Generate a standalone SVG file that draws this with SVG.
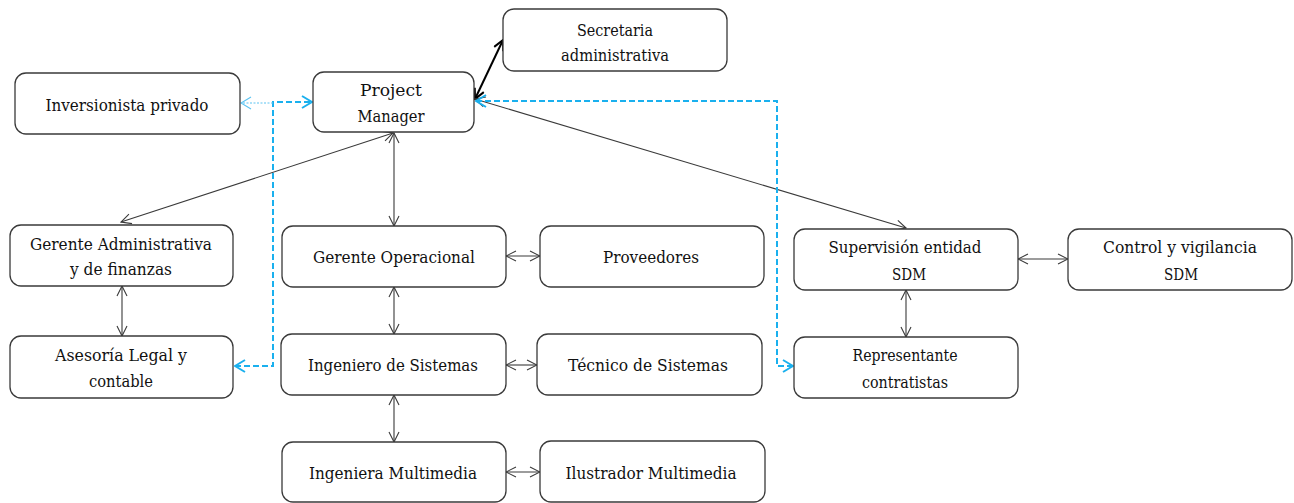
<svg xmlns="http://www.w3.org/2000/svg" width="1294" height="503" viewBox="0 0 1294 503">
<style>
.box{fill:#fff;stroke:#3a3a3a;stroke-width:1.3}
.t{font-family:"DejaVu Serif","Liberation Serif",serif;font-size:16.5px;fill:#111;text-anchor:middle}
.c{fill:none;stroke:#3a3a3a;stroke-width:1.1}
.k{fill:none;stroke:#000;stroke-width:2}
.b{fill:none;stroke:#1AB0EE;stroke-width:2;stroke-dasharray:6,3}
.bd{fill:none;stroke:#5CC4F2;stroke-width:1.2;stroke-dasharray:2,1.5}
</style>
<defs>
<marker id="a" viewBox="0 0 12 12" refX="11" refY="6" markerWidth="12" markerHeight="12" markerUnits="userSpaceOnUse" orient="auto-start-reverse"><path d="M1,1 L11,6 L1,11" fill="none" stroke="#3a3a3a" stroke-width="1.1"/></marker>
<marker id="ak" viewBox="0 0 12 12" refX="11" refY="6" markerWidth="12" markerHeight="12" markerUnits="userSpaceOnUse" orient="auto-start-reverse"><path d="M1,1 L11,6 L1,11" fill="none" stroke="#000" stroke-width="2"/></marker>
<marker id="ab" viewBox="0 0 12 14" refX="11" refY="7" markerWidth="12" markerHeight="14" markerUnits="userSpaceOnUse" orient="auto-start-reverse"><path d="M1,1 L11,7 L1,13" fill="none" stroke="#1AB0EE" stroke-width="2"/></marker>
<marker id="abd" viewBox="0 0 12 14" refX="11" refY="7" markerWidth="12" markerHeight="14" markerUnits="userSpaceOnUse" orient="auto-start-reverse"><path d="M1,1 L11,7 L1,13" fill="none" stroke="#5CC4F2" stroke-width="1.2"/></marker>
</defs>
<g id="connectors">
<line class="k" x1="475" y1="99" x2="503" y2="40" marker-start="url(#ak)" marker-end="url(#ak)"/>
<line class="c" x1="394" y1="133" x2="394" y2="226" marker-start="url(#a)" marker-end="url(#a)"/>
<line class="c" x1="393" y1="133" x2="121" y2="222" marker-start="url(#a)" marker-end="url(#a)"/>
<line class="c" x1="475" y1="99" x2="906" y2="228" marker-start="url(#a)" marker-end="url(#a)"/>
<line class="c" x1="122" y1="286" x2="122" y2="336" marker-start="url(#a)" marker-end="url(#a)"/>
<line class="c" x1="506" y1="256" x2="540" y2="256" marker-start="url(#a)" marker-end="url(#a)"/>
<line class="c" x1="394" y1="287" x2="394" y2="334" marker-start="url(#a)" marker-end="url(#a)"/>
<line class="c" x1="506" y1="365" x2="537" y2="365" marker-start="url(#a)" marker-end="url(#a)"/>
<line class="c" x1="394" y1="395" x2="394" y2="442" marker-start="url(#a)" marker-end="url(#a)"/>
<line class="c" x1="506" y1="472" x2="540" y2="472" marker-start="url(#a)" marker-end="url(#a)"/>
<line class="c" x1="1018" y1="259" x2="1068" y2="259" marker-start="url(#a)" marker-end="url(#a)"/>
<line class="c" x1="906" y1="290" x2="906" y2="337" marker-start="url(#a)" marker-end="url(#a)"/>
<path class="b" d="M235,366 H273 V102 H312" marker-start="url(#ab)" marker-end="url(#ab)"/>
<path class="bd" d="M273,103 H241" marker-end="url(#abd)"/>
<path class="b" d="M476,101 H777 V366 H793" marker-start="url(#ab)" marker-end="url(#ab)"/>
</g>
<g id="secretaria"><rect class="box" x="503" y="9" width="224" height="62" rx="11"/><text class="t" x="615" y="36" textLength="76" lengthAdjust="spacingAndGlyphs">Secretaria</text><text class="t" x="615" y="61" textLength="108" lengthAdjust="spacingAndGlyphs">administrativa</text></g>
<g id="inversionista"><rect class="box" x="15" y="73" width="225" height="61" rx="11"/><text class="t" x="127" y="111" textLength="163" lengthAdjust="spacingAndGlyphs">Inversionista privado</text></g>
<g id="pm"><rect class="box" x="313" y="72" width="161" height="60" rx="11"/><text class="t" x="391" y="96" textLength="62" lengthAdjust="spacingAndGlyphs">Project</text><text class="t" x="391" y="122" textLength="67" lengthAdjust="spacingAndGlyphs">Manager</text></g>
<g id="gerente-admin"><rect class="box" x="10" y="225" width="223" height="61" rx="11"/><text class="t" x="121" y="250" textLength="182" lengthAdjust="spacingAndGlyphs">Gerente Administrativa</text><text class="t" x="121" y="275" textLength="102" lengthAdjust="spacingAndGlyphs">y de finanzas</text></g>
<g id="gerente-op"><rect class="box" x="282" y="226" width="224" height="61" rx="11"/><text class="t" x="394" y="263" textLength="162" lengthAdjust="spacingAndGlyphs">Gerente Operacional</text></g>
<g id="proveedores"><rect class="box" x="540" y="226" width="224" height="61" rx="11"/><text class="t" x="651" y="263" textLength="96" lengthAdjust="spacingAndGlyphs">Proveedores</text></g>
<g id="supervision"><rect class="box" x="794" y="229" width="224" height="61" rx="11"/><text class="t" x="905" y="253" textLength="153" lengthAdjust="spacingAndGlyphs">Supervisión entidad</text><text class="t" x="909" y="280" textLength="34" lengthAdjust="spacingAndGlyphs">SDM</text></g>
<g id="control"><rect class="box" x="1068" y="229" width="224" height="61" rx="11"/><text class="t" x="1180" y="253" textLength="154" lengthAdjust="spacingAndGlyphs">Control y vigilancia</text><text class="t" x="1181" y="280" textLength="34" lengthAdjust="spacingAndGlyphs">SDM</text></g>
<g id="asesoria"><rect class="box" x="10" y="336" width="223" height="62" rx="11"/><text class="t" x="121" y="361" textLength="132" lengthAdjust="spacingAndGlyphs">Asesoría Legal y</text><text class="t" x="121" y="387" textLength="64" lengthAdjust="spacingAndGlyphs">contable</text></g>
<g id="ingeniero"><rect class="box" x="281" y="334" width="225" height="61" rx="11"/><text class="t" x="393" y="371" textLength="170" lengthAdjust="spacingAndGlyphs">Ingeniero de Sistemas</text></g>
<g id="tecnico"><rect class="box" x="537" y="334" width="225" height="61" rx="11"/><text class="t" x="648" y="371" textLength="160" lengthAdjust="spacingAndGlyphs">Técnico de Sistemas</text></g>
<g id="representante"><rect class="box" x="794" y="337" width="224" height="61" rx="11"/><text class="t" x="905" y="361" textLength="105" lengthAdjust="spacingAndGlyphs">Representante</text><text class="t" x="905" y="388" textLength="86" lengthAdjust="spacingAndGlyphs">contratistas</text></g>
<g id="ingeniera-mm"><rect class="box" x="282" y="442" width="224" height="60" rx="11"/><text class="t" x="393" y="479" textLength="168" lengthAdjust="spacingAndGlyphs">Ingeniera Multimedia</text></g>
<g id="ilustrador"><rect class="box" x="540" y="441" width="225" height="61" rx="11"/><text class="t" x="651" y="479" textLength="171" lengthAdjust="spacingAndGlyphs">Ilustrador Multimedia</text></g>
</svg>
